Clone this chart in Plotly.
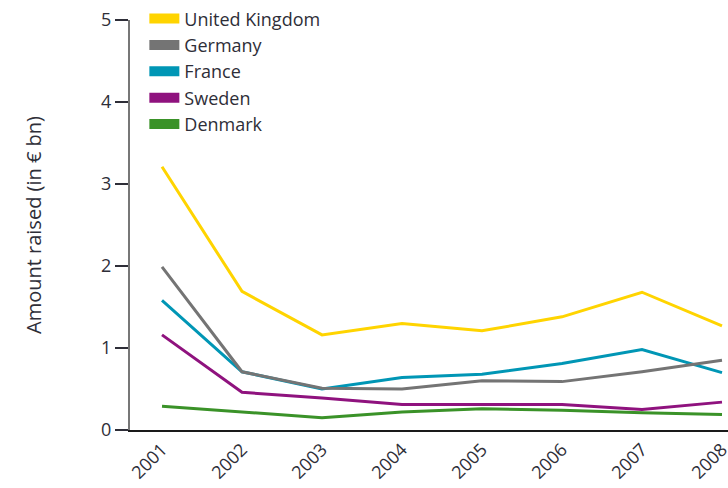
import plotly.graph_objects as go

years = ["2001", "2002", "2003", "2004", "2005", "2006", "2007", "2008"]
uk = [3.21, 1.69, 1.16, 1.30, 1.21, 1.38, 1.68, 1.27]
germany = [1.99, 0.71, 0.51, 0.50, 0.60, 0.59, 0.71, 0.85]
france = [1.58, 0.71, 0.50, 0.64, 0.68, 0.81, 0.98, 0.70]
sweden = [1.16, 0.46, 0.39, 0.31, 0.31, 0.31, 0.25, 0.34]
denmark = [0.29, 0.22, 0.15, 0.22, 0.26, 0.24, 0.21, 0.19]

names = ["United Kingdom", "Germany", "France", "Sweden", "Denmark"]
colors = ["#FFD400", "#747474", "#0096B5", "#8F127E", "#3A9228"]
series = [uk, germany, france, sweden, denmark]

fig = go.Figure()
for name, color, vals in reversed(list(zip(names, colors, series))):
    fig.add_trace(go.Scatter(x=years, y=vals, mode="lines", name=name,
                             line=dict(color=color, width=3),
                             legendgroup=name, showlegend=False))
for name, color in zip(names, colors):
    fig.add_trace(go.Scatter(x=[None], y=[None], mode="lines", name=name,
                             line=dict(color=color, width=13),
                             legendgroup=name, showlegend=True))

font = "Open Sans, DejaVu Sans, sans-serif"
fig.update_layout(
    width=728, height=488,
    margin=dict(l=130, r=0, t=16, b=58),
    paper_bgcolor="white", plot_bgcolor="white",
    font=dict(family=font, size=18, color="#2e2e38"),
    showlegend=True,
    legend=dict(x=0.024, y=1.048, xanchor="left", yanchor="top",
                bgcolor="rgba(0,0,0,0)", font=dict(size=18, color="#2e2e38"),
                tracegroupgap=0, itemwidth=30),
    xaxis=dict(type="category", range=[-0.4, 7.075], showgrid=False,
               showline=True, linecolor="#1a1a1a", linewidth=2,
               ticks="", tickangle=-45, tickfont=dict(size=18),
               zeroline=False, automargin=False),
    yaxis=dict(range=[0, 5], tickvals=[0, 1, 2, 3, 4, 5], showgrid=False,
               showline=True, linecolor="#777777", linewidth=2,
               ticks="outside", ticklen=13, tickwidth=2, tickcolor="#2e2e38",
               tickfont=dict(size=18), zeroline=False, automargin=False,
               title=dict(text="Amount raised (in € bn)", font=dict(size=20),
                          standoff=54)),
)
fig.write_html("out.html", config={"displayModeBar": False},
               post_script="document.body.style.margin='0';")
